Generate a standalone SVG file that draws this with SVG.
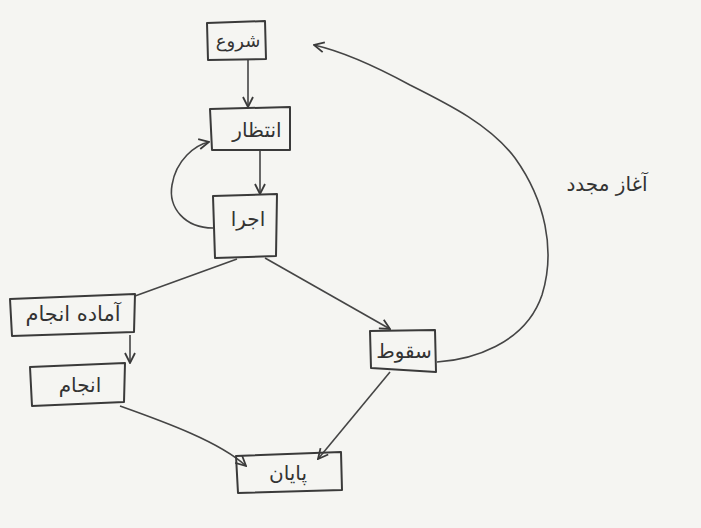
<svg xmlns="http://www.w3.org/2000/svg" width="701" height="528" viewBox="0 0 701 528">
<defs>
<style>
.box{fill:none;stroke:#3a3a3a;stroke-width:2;stroke-linejoin:round}
.con{fill:none;stroke:#454545;stroke-width:1.6}
.lbl{font-family:"DejaVu Sans",sans-serif;font-size:20px;fill:#333;text-anchor:middle}
</style>
<marker id="ah" viewBox="0 0 12 12" refX="11" refY="6" markerWidth="12" markerHeight="12" markerUnits="userSpaceOnUse" orient="auto">
<path d="M1,1 L11,6 L1,11" fill="none" stroke="#3a3a3a" stroke-width="1.8"/>
</marker>
</defs>
<rect width="701" height="528" fill="#f5f5f2"/>
<g id="connectors">
<path class="con" d="M248,60 L248,107" marker-end="url(#ah)"/>
<path class="con" d="M260,151 L260,194" marker-end="url(#ah)"/>
<path class="con" d="M213,228 C185,228 168,208 172,185 C176,160 195,145 209,142" marker-end="url(#ah)"/>
<path class="con" d="M237,259 L135,296"/>
<path class="con" d="M265,258 L390,329" marker-end="url(#ah)"/>
<path class="con" d="M130,335 L130,363" marker-end="url(#ah)"/>
<path class="con" d="M120,406 C165,422 220,442 246,466" marker-end="url(#ah)"/>
<path class="con" d="M390,372 L318,459" marker-end="url(#ah)"/>
<path class="con" d="M437,362 C470,360 525,345 542,295 C556,250 545,200 515,158 C490,125 450,105 410,85 C375,66 345,52 314,45" marker-end="url(#ah)"/>
</g>
<g id="start">
<path class="box" d="M207,23 L265,21 L266,59 L208,60 Z"/>
<text class="lbl" x="238" y="47" style="font-size:18px">شروع</text>
</g>
<g id="wait">
<path class="box" d="M210,109 L290,107 L290,150 L212,150 Z"/>
<text class="lbl" x="257" y="137">انتظار</text>
</g>
<g id="exec">
<path class="box" d="M213,196 L277,194 L276,256 L215,258 Z"/>
<text class="lbl" x="248" y="226">اجرا</text>
</g>
<g id="ready">
<path class="box" d="M10,299 L135,294 L134,332 L12,336 Z"/>
<text class="lbl" x="73" y="321" style="font-size:21px">آماده انجام</text>
</g>
<g id="done">
<path class="box" d="M30,367 L125,363 L124,402 L32,406 Z"/>
<text class="lbl" x="80" y="392">انجام</text>
</g>
<g id="crash">
<path class="box" d="M370,331 L435,330 L436,372 L371,368 Z"/>
<text class="lbl" x="404" y="358">سقوط</text>
</g>
<g id="end">
<path class="box" d="M236,456 L341,452 L342,490 L238,493 Z"/>
<text class="lbl" x="288" y="480">پایان</text>
</g>
<text class="lbl" x="607" y="191">آغاز مجدد</text>
</svg>
